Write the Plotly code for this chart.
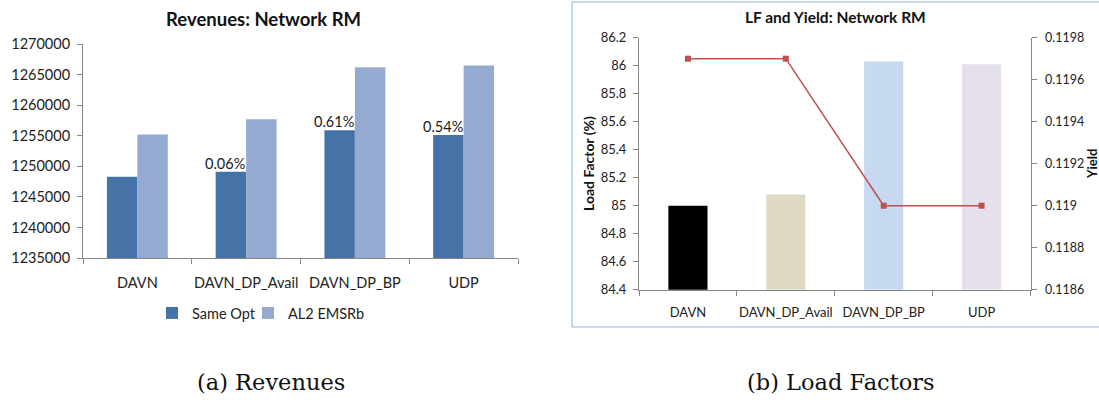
import plotly.graph_objects as go

# Revenue comparison (left panel)
methods = ["DAVN", "DAVN_DP_Avail", "DAVN_DP_BP", "UDP"]
rev_same_opt = [1248300, 1249100, 1255900, 1255100]
rev_al2_emsrb = [1255200, 1257700, 1266200, 1266500]
rev_gain_labels = ["", "0.06%", "0.61%", "0.54%"]

# Load factor and yield (right panel)
load_factor = [85.00, 85.08, 86.03, 86.01]
yield_vals = [0.1197, 0.1197, 0.1190, 0.1190]
lf_colors = ["#000000", "#DDD9C3", "#C6D9F1", "#E5E0EC"]

W, H = 1099, 400
FONT = "Lato"
AXIS_GRAY = "#868686"
TEXT = "#222222"


def px_x(v):
    return v / W


def px_y(v):
    return 1 - v / H


fig = go.Figure()

fig.add_trace(go.Bar(
    x=methods, y=rev_same_opt, name="Same Opt",
    marker=dict(color="#4573A8", line=dict(width=0)),
    xaxis="x", yaxis="y", legend="legend",
))
fig.add_trace(go.Bar(
    x=methods, y=rev_al2_emsrb, name="AL2 EMSRb",
    marker=dict(color="#95AAD1", line=dict(width=0)),
    xaxis="x", yaxis="y", legend="legend2",
))

fig.add_trace(go.Bar(
    x=methods, y=load_factor, name="Load Factor",
    marker=dict(color=lf_colors, line=dict(width=0)),
    showlegend=False, width=0.40,
    xaxis="x2", yaxis="y2",
))
fig.add_trace(go.Scatter(
    x=methods, y=yield_vals, name="Yield", mode="lines+markers",
    line=dict(color="#C0504D", width=1.5),
    marker=dict(symbol="square", size=6, color="#C0504D"),
    showlegend=False, cliponaxis=False,
    xaxis="x2", yaxis="y3",
))

axis_common = dict(
    showline=True, linecolor=AXIS_GRAY, linewidth=1,
    showgrid=False, zeroline=False, ticks="outside",
    tickcolor=AXIS_GRAY, ticklen=5, fixedrange=True, automargin=False,
)
legend_common = dict(
    orientation="h", xanchor="left", y=px_y(313), yanchor="middle",
    font=dict(family=FONT, size=14.5, color=TEXT),
    itemwidth=30, bgcolor="rgba(0,0,0,0)",
)

fig.update_layout(
    width=W, height=H,
    margin=dict(l=0, r=0, t=0, b=0),
    paper_bgcolor="white", plot_bgcolor="white",
    font=dict(family=FONT, color=TEXT),
    barmode="group", bargap=0.44, bargroupgap=0,
    xaxis=dict(
        **axis_common, domain=[px_x(83), px_x(518)], anchor="y",
        tickson="boundaries", ticklabelstandoff=12, tickangle=0,
        tickfont=dict(size=14.5, color=TEXT),
    ),
    yaxis=dict(
        **axis_common, domain=[px_y(258), px_y(44)], anchor="x",
        range=[1235000, 1270000], dtick=5000, tickformat="d",
        tickfont=dict(size=14.5, color=TEXT), ticklabelstandoff=4,
    ),
    xaxis2=dict(
        **axis_common, domain=[px_x(639), px_x(1030.5)], anchor="y2",
        tickson="boundaries", ticklabelstandoff=11, tickangle=0,
        tickfont=dict(size=13, color=TEXT),
    ),
    yaxis2=dict(
        **axis_common, domain=[px_y(289.7), px_y(37.7)], anchor="x2",
        range=[84.4, 86.2], dtick=0.2,
        tickfont=dict(size=13, color=TEXT), ticklabelstandoff=4,
    ),
    yaxis3=dict(
        **axis_common, overlaying="y2", side="right", anchor="x2",
        range=[0.1186, 0.1198],
        tickvals=[0.1186, 0.1188, 0.119, 0.1192, 0.1194, 0.1196, 0.1198],
        ticktext=["0.1186", "0.1188", "0.119", "0.1192", "0.1194", "0.1196", "0.1198"],
        tickfont=dict(size=12.5, color=TEXT), ticklabelstandoff=6,
    ),
    legend=dict(**legend_common, x=px_x(152)),
    legend2=dict(**legend_common, x=px_x(248)),
    showlegend=True,
)

annotations = [
    dict(text="<b>Revenues: Network RM</b>", x=px_x(263), y=px_y(19),
         font=dict(family=FONT, size=18.5, color="#111111")),
    dict(text="<b>LF and Yield: Network RM</b>", x=px_x(835), y=px_y(17),
         font=dict(family=FONT, size=15.5, color="#111111")),
    dict(text="<b>Load Factor (%)</b>", x=px_x(589), y=px_y(164), textangle=-90,
         font=dict(family=FONT, size=14, color="#111111")),
    dict(text="<b>Yield</b>", x=px_x(1092), y=px_y(164), textangle=-90,
         font=dict(family=FONT, size=13, color="#111111")),
    dict(text="(a) Revenues", x=px_x(271), y=px_y(382),
         font=dict(family="DejaVu Serif", size=22.5, color="#111111")),
    dict(text="(b) Load Factors", x=px_x(841), y=px_y(382),
         font=dict(family="DejaVu Serif", size=22.5, color="#111111")),
]
for a in annotations:
    a.update(xref="paper", yref="paper", showarrow=False,
             xanchor="center", yanchor="middle")

# Percentage gain labels sitting on top of the "Same Opt" bars
for m, v, lbl in zip(methods, rev_same_opt, rev_gain_labels):
    if lbl:
        annotations.append(dict(
            text=lbl, x=m, y=v, xref="x", yref="y", showarrow=False,
            xanchor="center", yanchor="bottom", xshift=-21, yshift=-2,
            font=dict(family=FONT, size=14.5, color="#1a1a1a"),
        ))
fig.update_layout(annotations=annotations)

# Frame around the right-hand chart
fig.add_shape(type="rect", xref="paper", yref="paper",
              x0=px_x(572), x1=1.02, y0=px_y(327), y1=px_y(2),
              line=dict(color="#8EB4E3", width=1), fillcolor="rgba(0,0,0,0)",
              layer="below")

fig.write_html("out.html")
